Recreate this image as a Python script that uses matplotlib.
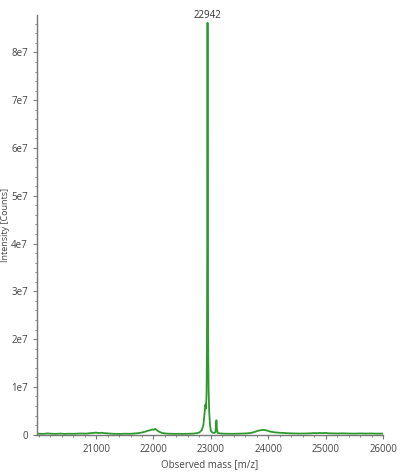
import numpy as np
import matplotlib.pyplot as plt
from matplotlib.ticker import MultipleLocator

mass = [20000, 20080, 20150, 20230, 20300, 20380, 20450, 20520, 20600, 20680,
        20750, 20820, 20900, 20950, 21000, 21050, 21100, 21150, 21200, 21280,
        21350, 21430, 21500, 21580, 21650, 21730, 21800, 21850, 21900, 21950,
        21980, 22000, 22030, 22060, 22100, 22150, 22220, 22300, 22380, 22450,
        22520, 22600, 22680, 22750, 22800, 22840, 22870, 22890, 22905, 22915,
        22925, 22932, 22938, 22942, 22946, 22952, 22960, 22970, 22985, 23000,
        23030, 23060, 23080, 23090, 23097, 23105, 23120, 23160, 23220, 23300,
        23380, 23460, 23540, 23620, 23700, 23760, 23820, 23860, 23900, 23940,
        23980, 24030, 24100, 24180, 24260, 24350, 24450, 24550, 24650, 24750,
        24800, 24850, 24900, 24950, 25000, 25050, 25100, 25200, 25300, 25400,
        25500, 25600, 25700, 25800, 25900, 26000]
intensity = [2.0e5, 1.5e5, 2.5e5, 1.8e5, 1.6e5, 2.2e5, 1.4e5, 1.9e5, 1.7e5, 2.1e5,
             2.4e5, 2.0e5, 3.0e5, 3.6e5, 4.2e5, 3.3e5, 3.9e5, 3.0e5, 2.6e5, 1.8e5,
             1.6e5, 1.5e5, 1.9e5, 1.7e5, 2.2e5, 3.0e5, 4.5e5, 6.0e5, 8.0e5, 9.5e5,
             1.1e6, 1.0e6, 1.2e6, 9.0e5, 6.0e5, 3.5e5, 2.2e5, 1.8e5, 1.6e5, 1.7e5,
             1.5e5, 1.8e5, 2.0e5, 3.0e5, 4.5e5, 9.0e5, 2.0e6, 4.5e6, 6.3e6, 5.5e6,
             8.5e6, 1.8e7, 5.0e7, 8.62e7, 5.5e7, 2.0e7, 1.0e7, 5.0e6, 2.0e6, 8.0e5,
             4.0e5, 3.5e5, 5.0e5, 1.6e6, 3.0e6, 1.2e6, 3.5e5, 2.5e5, 2.0e5, 1.8e5,
             1.7e5, 1.9e5, 2.2e5, 2.6e5, 3.5e5, 5.5e5, 8.0e5, 9.0e5, 1.0e6, 9.5e5,
             8.5e5, 6.5e5, 5.0e5, 4.0e5, 3.5e5, 2.8e5, 2.5e5, 2.2e5, 2.4e5, 2.8e5,
             3.3e5, 2.9e5, 3.5e5, 3.0e5, 3.6e5, 2.8e5, 2.6e5, 2.4e5, 2.7e5, 2.3e5,
             2.1e5, 2.5e5, 2.2e5, 2.4e5, 2.0e5, 2.2e5]
peak_mass = 22942
peak_label = "22942"

plt.rcParams['font.family'] = ['Open Sans', 'DejaVu Sans']
fig = plt.figure(figsize=(4, 4.75), dpi=100)
ax = fig.add_axes([0.0925, 0.084, 0.865, 0.884])

ax.plot(mass, intensity, color='#2e9a2e', linewidth=1.3)
ax.text(peak_mass, max(intensity) * 1.005, peak_label, ha='center', va='bottom',
        fontsize=7, color='#333333')

ax.set_xlim(19970, 26000)
ax.set_ylim(-1e5, 8.78e7)
ax.xaxis.set_major_locator(MultipleLocator(1000))
ax.xaxis.set_minor_locator(MultipleLocator(200))
ax.yaxis.set_major_locator(MultipleLocator(1e7))
ax.yaxis.set_minor_locator(MultipleLocator(2e6))
ax.set_xticks([21000, 22000, 23000, 24000, 25000, 26000])
ax.set_yticks(np.arange(0, 9e7, 1e7))
ax.set_yticklabels(['0'] + ['%de7' % i for i in range(1, 9)])

for s in ['top', 'right']:
    ax.spines[s].set_visible(False)
for s in ['left', 'bottom']:
    ax.spines[s].set_color('#777777')
    ax.spines[s].set_linewidth(1.0)
ax.tick_params(which='both', colors='#777777', labelcolor='#444444', labelsize=7,
               direction='out')
ax.tick_params(which='major', length=3)
ax.tick_params(which='minor', length=1.5)

ax.set_xlabel('Observed mass [m/z]', fontsize=7, color='#444444', labelpad=3)
ax.set_ylabel('Intensity [Counts]', fontsize=6.5, color='#444444')
ax.yaxis.set_label_coords(-0.078, 0.5)

fig.savefig('out.png', dpi=100)
